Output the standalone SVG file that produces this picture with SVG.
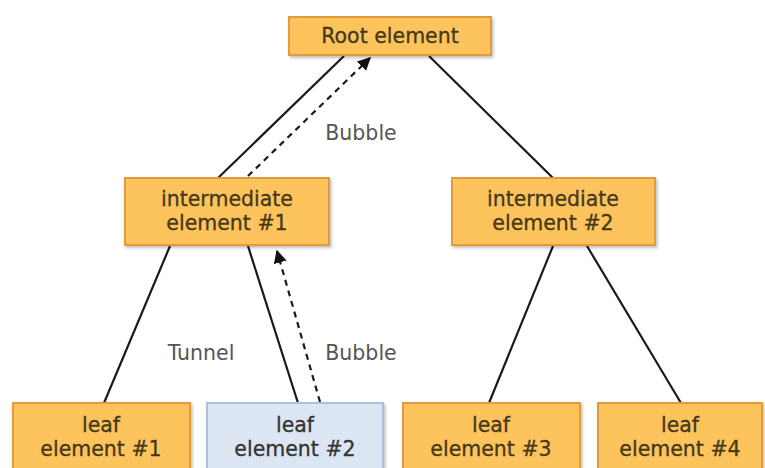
<svg xmlns="http://www.w3.org/2000/svg" width="765" height="468" viewBox="0 0 765 468">
  <defs>
    <filter id="shadow" x="-10%" y="-10%" width="125%" height="135%">
      <feDropShadow dx="1.5" dy="2" stdDeviation="1.5" flood-color="#000" flood-opacity="0.25"/>
    </filter>
    <marker id="arrow" viewBox="0 0 10 10" refX="9" refY="5" markerWidth="6" markerHeight="6" orient="auto" markerUnits="strokeWidth">
      <path d="M0,0 L10,5 L0,10 z" fill="#111"/>
    </marker>
    <style>
      .box { fill: #FDC35C; stroke: #E39A3E; stroke-width: 2; filter: url(#shadow); }
      .leafblue { fill: #DCE6F2; stroke: #A9C1DD; stroke-width: 2; filter: url(#shadow); }
      .t { font-family: "DejaVu Sans", Verdana, sans-serif; font-size: 20.5px; fill: #45391A; text-anchor: middle; stroke: #45391A; stroke-width: 0.3; }
      .tb { fill: #333; stroke: #333; }
      .lbl { font-family: "DejaVu Sans", Verdana, sans-serif; font-size: 20.5px; fill: #555; text-anchor: middle; }
      .edge { stroke: #1a1a1a; stroke-width: 2.2; fill: none; }
      .flow { stroke: #1a1a1a; stroke-width: 2.2; fill: none; stroke-dasharray: 6 5; marker-end: url(#arrow); }
    </style>
  </defs>

  <!-- connectors -->
  <g id="connectors">
    <line class="edge" x1="344" y1="56" x2="218" y2="178"/>
    <line class="edge" x1="429" y1="56" x2="553" y2="178"/>
    <line class="edge" x1="170" y1="246" x2="104" y2="403"/>
    <line class="edge" x1="248" y1="246" x2="298" y2="403"/>
    <line class="edge" x1="553" y1="246" x2="489" y2="403"/>
    <line class="edge" x1="587" y1="246" x2="681" y2="403"/>
    <line class="flow" x1="248" y1="176" x2="370" y2="58"/>
    <line class="flow" x1="320" y1="402" x2="277" y2="251"/>
    <text class="lbl" x="361" y="140">Bubble</text>
    <text class="lbl" x="201" y="360">Tunnel</text>
    <text class="lbl" x="361" y="360">Bubble</text>
  </g>

  <g id="root">
    <rect class="box" x="289" y="17" width="202" height="38"/>
    <text class="t" x="390" y="43">Root element</text>
  </g>

  <g id="intermediate1">
    <rect class="box" x="125" y="178" width="204" height="67"/>
    <text class="t" x="227" y="206">intermediate</text>
    <text class="t" x="227" y="230">element #1</text>
  </g>

  <g id="intermediate2">
    <rect class="box" x="452" y="178" width="203" height="67"/>
    <text class="t" x="553" y="206">intermediate</text>
    <text class="t" x="553" y="230">element #2</text>
  </g>

  <g id="leaf1">
    <rect class="box" x="13" y="403" width="177" height="75"/>
    <text class="t" x="101" y="432">leaf</text>
    <text class="t" x="101" y="456">element #1</text>
  </g>

  <g id="leaf2">
    <rect class="leafblue" x="207" y="403" width="176" height="75"/>
    <text class="t tb" x="295" y="432">leaf</text>
    <text class="t tb" x="295" y="456">element #2</text>
  </g>

  <g id="leaf3">
    <rect class="box" x="403" y="403" width="177" height="75"/>
    <text class="t" x="491" y="432">leaf</text>
    <text class="t" x="491" y="456">element #3</text>
  </g>

  <g id="leaf4">
    <rect class="box" x="598" y="403" width="164" height="75"/>
    <text class="t" x="680" y="432">leaf</text>
    <text class="t" x="680" y="456">element #4</text>
  </g>
</svg>
